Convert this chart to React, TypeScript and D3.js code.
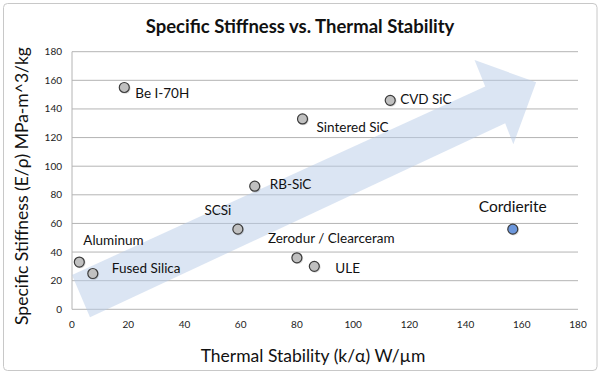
import * as d3 from 'd3';

// material data
const materials = ['Aluminum', 'Fused Silica', 'Be I-70H', 'SCSi', 'RB-SiC', 'Zerodur / Clearceram', 'Sintered SiC', 'ULE', 'CVD SiC', 'Cordierite'];
const thermalStability = [2.6, 7.4, 18.6, 59, 65, 80, 82, 86.2, 113.2, 156.8];
const specificStiffness = [33, 25, 155, 56, 86, 36, 133, 30, 146, 56];
// label offsets (px) relative to each point: dx, dy, anchor
const labelDx = [4, 19, 11, -20, 15, -29, 14, 21, 10, 0];
const labelDy = [-22, -5, 6, -19, -2, -20, 8, 2, -1, -23];
const labelAnchor = ['start', 'start', 'start', 'middle', 'start', 'start', 'start', 'start', 'start', 'middle'];

const xTicks = [0, 20, 40, 60, 80, 100, 120, 140, 160, 180];
const yTicks = [0, 20, 40, 60, 80, 100, 120, 140, 160, 180];

// trend arrow outline in data units
const arrowX = [0, 147, 143.2, 165.1, 157, 154.1, 6.4];
const arrowY = [24, 155.6, 174.2, 158.6, 115.3, 130, -5.6];

const W = 600;
const H = 373;
const margin = { left: 72, right: 22, top: 51.7, bottom: 63.7 };
const font = 'Lato, "Open Sans", sans-serif';

export default function App() {
  const x = d3.scaleLinear().domain([0, 180]).range([margin.left, W - margin.right]);
  const y = d3.scaleLinear().domain([0, 180]).range([H - margin.bottom, margin.top]);

  const arrowPts: [number, number][] = arrowX.map((v, i) => [x(v), y(arrowY[i])]);
  const arrowPath = d3.line()(arrowPts) + 'Z';

  return (
    <svg width={W} height={H} style={{ position: 'absolute', left: 0, top: 0, background: '#fff' }} fontFamily={font}>
      <rect x={3.5} y={3.5} width={593.5} height={367} rx={4} fill="#fff" stroke="#c8c8c8" strokeWidth={1} />
      <text x={300} y={33} textAnchor="middle" fontSize={18.5} fontWeight="bold" fill="#111">
        Specific Stiffness vs. Thermal Stability
      </text>

      {/* gridlines */}
      {yTicks.map(t => (
        <line key={t} x1={x(0)} x2={x(180)} y1={y(t)} y2={y(t)} stroke="#b4b4b4" strokeWidth={1} />
      ))}
      <line x1={x(0)} x2={x(0)} y1={y(0)} y2={y(180)} stroke="#b4b4b4" strokeWidth={1} />

      <path d={arrowPath} fill="#b8cbe8" fillOpacity={0.5} />

      {yTicks.map(t => (
        <text key={t} x={x(0) - 10} y={y(t)} dy="0.35em" textAnchor="end" fontSize={10} fill="#222">{t}</text>
      ))}
      {xTicks.map(t => (
        <text key={t} x={x(t)} y={y(0) + 15} dy="0.35em" textAnchor="middle" fontSize={10} fill="#222">{t}</text>
      ))}

      {materials.map((m, i) => {
        const cx = x(thermalStability[i]);
        const cy = y(specificStiffness[i]);
        const hl = m === 'Cordierite';
        return (
          <g key={m}>
            <circle cx={cx + 0.8} cy={cy + 0.8} r={5.5} fill="#000" opacity={0.15} />
            <circle cx={cx} cy={cy} r={5} fill={hl ? '#6c97dc' : '#c0c0c0'} stroke="#3c3c3c" strokeWidth={1.2} />
            <text x={cx + labelDx[i]} y={cy + labelDy[i]} dy="0.35em" textAnchor={labelAnchor[i]}
              fontSize={hl ? 15.5 : 13.5} fill="#111">{m}</text>
          </g>
        );
      })}

      <text x={313} y={356} dy="0.35em" textAnchor="middle" fontSize={17.5} fill="#111">Thermal Stability (k/α) W/µm</text>
      <text transform={`translate(22,186) rotate(-90)`} dy="0.35em" textAnchor="middle" fontSize={17.5} fill="#111">
        Specific Stiffness (E/ρ) MPa-m^3/kg
      </text>
    </svg>
  );
}
